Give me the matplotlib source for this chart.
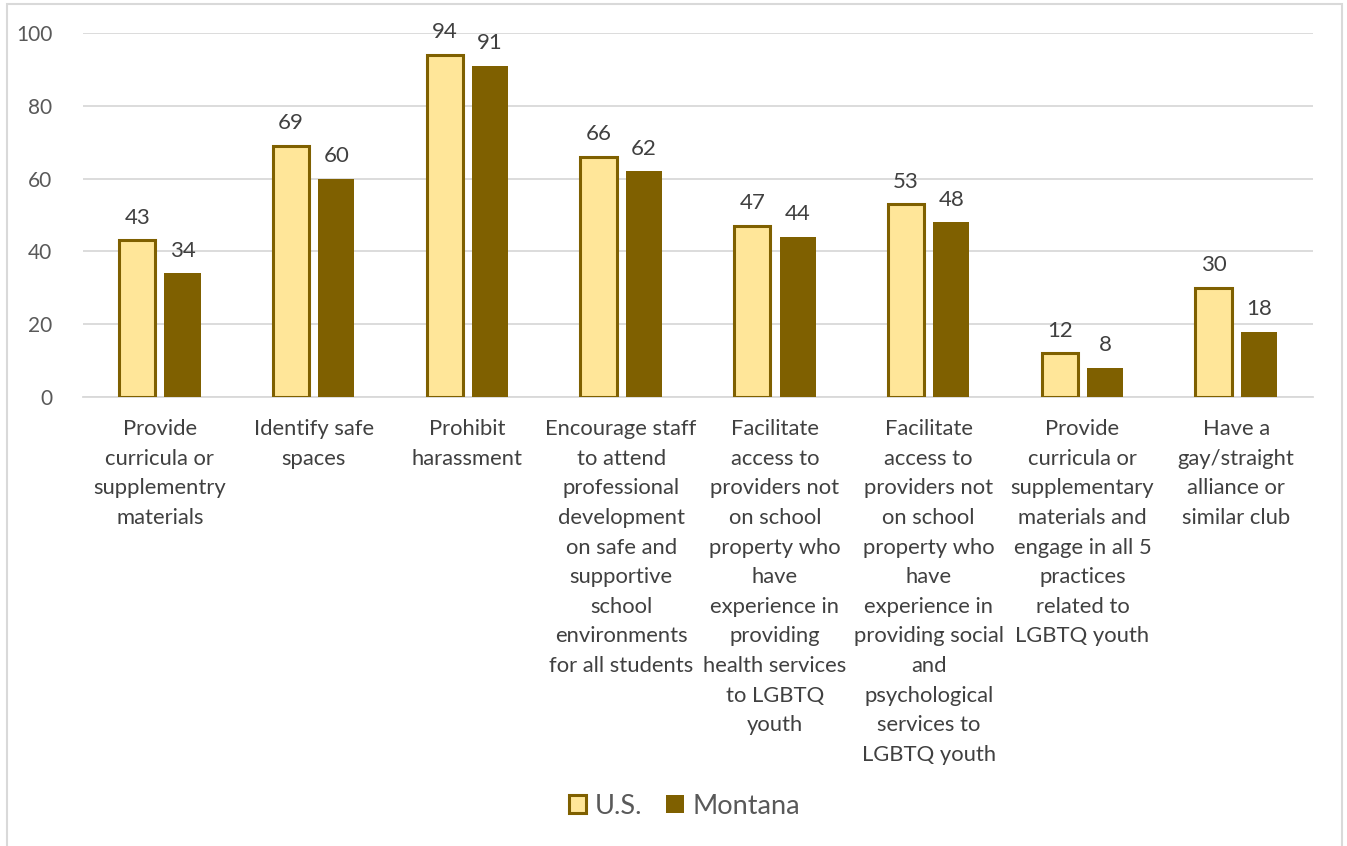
import numpy as np
import matplotlib.pyplot as plt
from matplotlib.patches import Rectangle

categories = [
    "Provide\ncurricula or\nsupplementry\nmaterials",
    "Identify safe\nspaces",
    "Prohibit\nharassment",
    "Encourage staff\nto attend\nprofessional\ndevelopment\non safe and\nsupportive\nschool\nenvironments\nfor all students",
    "Facilitate\naccess to\nproviders not\non school\nproperty who\nhave\nexperience in\nproviding\nhealth services\nto LGBTQ\nyouth",
    "Facilitate\naccess to\nproviders not\non school\nproperty who\nhave\nexperience in\nproviding social\nand\npsychological\nservices to\nLGBTQ youth",
    "Provide\ncurricula or\nsupplementary\nmaterials and\nengage in all 5\npractices\nrelated to\nLGBTQ youth",
    "Have a\ngay/straight\nalliance or\nsimilar club",
]
us = [43, 69, 94, 66, 47, 53, 12, 30]
montana = [34, 60, 91, 62, 44, 48, 8, 18]

plt.rcParams['font.family'] = ['Lato', 'DejaVu Sans']
grey = '#595959'

fig = plt.figure(figsize=(13.47, 8.46), dpi=100)
ax = fig.add_axes([0.0616, 0.5307, 0.9132, 0.4303])

x = np.arange(len(categories))
w = 0.235
gap = 0.06
b1 = ax.bar(x - (w + gap) / 2, us, w, color='#FFE699', edgecolor='#7F6000',
            linewidth=2.2, label='U.S.', zorder=3)
b2 = ax.bar(x + (w + gap) / 2, montana, w, color='#7F6000', edgecolor='#7F6000',
            linewidth=0, label='Montana', zorder=3)
for bars, vals in ((b1, us), (b2, montana)):
    ax.bar_label(bars, labels=[str(v) for v in vals], padding=9,
                 fontsize=16, color='#404040')

ax.set_xlim(-0.5, len(categories) - 0.5)
ax.set_ylim(0, 100)
ax.set_yticks(range(0, 101, 20))
ax.yaxis.grid(True, color='#d9d9d9', linewidth=1.3, zorder=0)
ax.set_xticks(x)
ax.set_xticklabels(categories, fontsize=15.8, color='#404040', linespacing=1.6)
ax.tick_params(axis='y', labelsize=15, labelcolor=grey, length=0, pad=22)
ax.tick_params(axis='x', length=0, pad=16)
for s in ['top', 'right', 'left']:
    ax.spines[s].set_visible(False)
ax.spines['bottom'].set_color('#d9d9d9')
ax.spines['bottom'].set_linewidth(1.3)

leg = fig.legend(handles=[b1, b2], loc='center', bbox_to_anchor=(0.508, 0.047),
                 ncol=2, frameon=False, fontsize=19.5, handlelength=0.65,
                 handleheight=0.65, handletextpad=0.3, columnspacing=0.9)
for t in leg.get_texts():
    t.set_color(grey)

fig.patches.append(Rectangle((7 / 1347, -0.01), 1335 / 1347, 1 - 4 / 846 + 0.01,
                             transform=fig.transFigure, fill=False,
                             edgecolor='#d9d9d9', linewidth=1.5))

fig.savefig('out.png', dpi=100)
